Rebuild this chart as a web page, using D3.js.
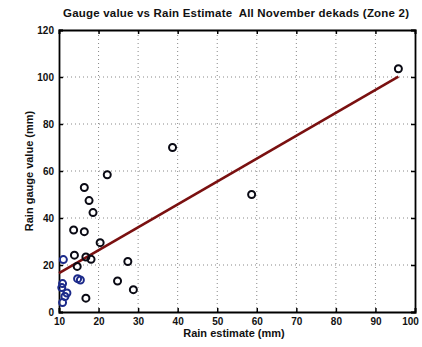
<!DOCTYPE html>
<html><head><meta charset="utf-8">
<script src="https://cdn.jsdelivr.net/npm/d3@7"></script>
<style>body{margin:0;background:#fff}svg{display:block}text{font-family:"Liberation Sans",Arial,sans-serif;fill:#111}</style>
</head><body>
<script>
const title = "Gauge value vs Rain Estimate  All November dekads (Zone 2)";
const xLabel = "Rain estimate (mm)";
const yLabel = "Rain gauge value (mm)";
const xTicks = [10,20,30,40,50,60,70,80,90,100];
const yTicks = [0,20,40,60,80,100,120];
// black markers
const estBlack   = [22.2,16.4,17.6,18.6,13.7,16.4,20.4,13.9,16.8,18.1,14.6,27.4,24.8,28.8,16.8,38.7,58.7,95.8];
const gaugeBlack = [58.4,53.0,47.4,42.3,34.9,34.2,29.5,24.2,23.4,22.4,19.4,21.5,13.2,9.5,5.9,70.0,50.0,103.5];
// blue markers
const estBlue   = [11.1,14.7,15.4,10.9,10.7,12.0,11.5,10.9];
const gaugeBlue = [22.3,14.2,13.6,12.1,10.4,8.1,6.6,4.0];
// fitted line endpoints
const fitX = [10,95.8];
const fitY = [16.5,100.2];

const W=422,H=347, m={l:59,r:7,t:30,b:35};
const svg=d3.select("body").append("svg").attr("width",W).attr("height",H);
const x=d3.scaleLinear().domain([10,100]).range([m.l,W-m.r]);
const y=d3.scaleLinear().domain([0,120]).range([H-m.b,m.t]);

// grid
const g=svg.append("g");
g.selectAll(".gx").data(xTicks.slice(1,-1)).join("line")
 .attr("x1",d=>x(d)).attr("x2",d=>x(d)).attr("y1",y(0)).attr("y2",y(120))
 .attr("stroke","#888").attr("stroke-width",1).attr("stroke-dasharray","1,3");
g.selectAll(".gy").data(yTicks.slice(1,-1)).join("line")
 .attr("y1",d=>y(d)).attr("y2",d=>y(d)).attr("x1",x(10)).attr("x2",x(100))
 .attr("stroke","#888").attr("stroke-width",1).attr("stroke-dasharray","1,3");

// axes
const ax=svg.append("g").attr("transform",`translate(0,${y(0)})`)
 .call(d3.axisBottom(x).tickValues(xTicks).tickSize(-4).tickPadding(6));
ax.selectAll(".tick text").filter(d=>d===100).attr("dx",-5);
const ay=svg.append("g").attr("transform",`translate(${x(10)},0)`)
 .call(d3.axisLeft(y).tickValues(yTicks).tickSize(-4).tickPadding(5));
svg.append("g").attr("transform",`translate(0,${y(120)})`)
 .call(d3.axisTop(x).tickValues(xTicks).tickSize(-4).tickFormat(""));
svg.append("g").attr("transform",`translate(${x(100)},0)`)
 .call(d3.axisRight(y).tickValues(yTicks).tickSize(-4).tickFormat(""));
svg.selectAll(".domain").attr("stroke","#000").attr("stroke-width",1.8);
svg.selectAll(".tick line").attr("stroke","#000").attr("stroke-width",1.5);
svg.selectAll(".tick text").style("font-size","10px").style("font-weight","bold")
 .style("font-family","'Liberation Sans',Arial,sans-serif").attr("fill","#111");

// fit line
svg.append("line").attr("x1",x(fitX[0])).attr("y1",y(fitY[0])).attr("x2",x(fitX[1])).attr("y2",y(fitY[1]))
 .attr("stroke","#7a1010").attr("stroke-width",2.6);

// markers
const black=estBlack.map((v,i)=>[v,gaugeBlack[i]]);
const blue=estBlue.map((v,i)=>[v,gaugeBlue[i]]);
svg.append("g").selectAll("circle").data(black).join("circle")
 .attr("cx",d=>x(d[0])).attr("cy",d=>y(d[1])).attr("r",3.5)
 .attr("fill","none").attr("stroke","#0a0a14").attr("stroke-width",2);
svg.append("g").selectAll("circle").data(blue).join("circle")
 .attr("cx",d=>x(d[0])).attr("cy",d=>y(d[1])).attr("r",3.5)
 .attr("fill","none").attr("stroke","#1c2a8a").attr("stroke-width",2);

// texts
svg.append("text").attr("x",236).attr("y",17).attr("text-anchor","middle")
 .style("white-space","pre")
 .style("font-size","11.5px").style("font-weight","bold").attr("textLength",346).text(title);
svg.append("text").attr("x",234).attr("y",337).attr("text-anchor","middle")
 .style("font-size","11px").style("font-weight","bold").text(xLabel);
svg.append("text").attr("transform",`translate(33,${(y(0)+y(120))/2}) rotate(-90)`).attr("text-anchor","middle")
 .style("font-size","11px").style("font-weight","bold").text(yLabel);
</script>
</body></html>
